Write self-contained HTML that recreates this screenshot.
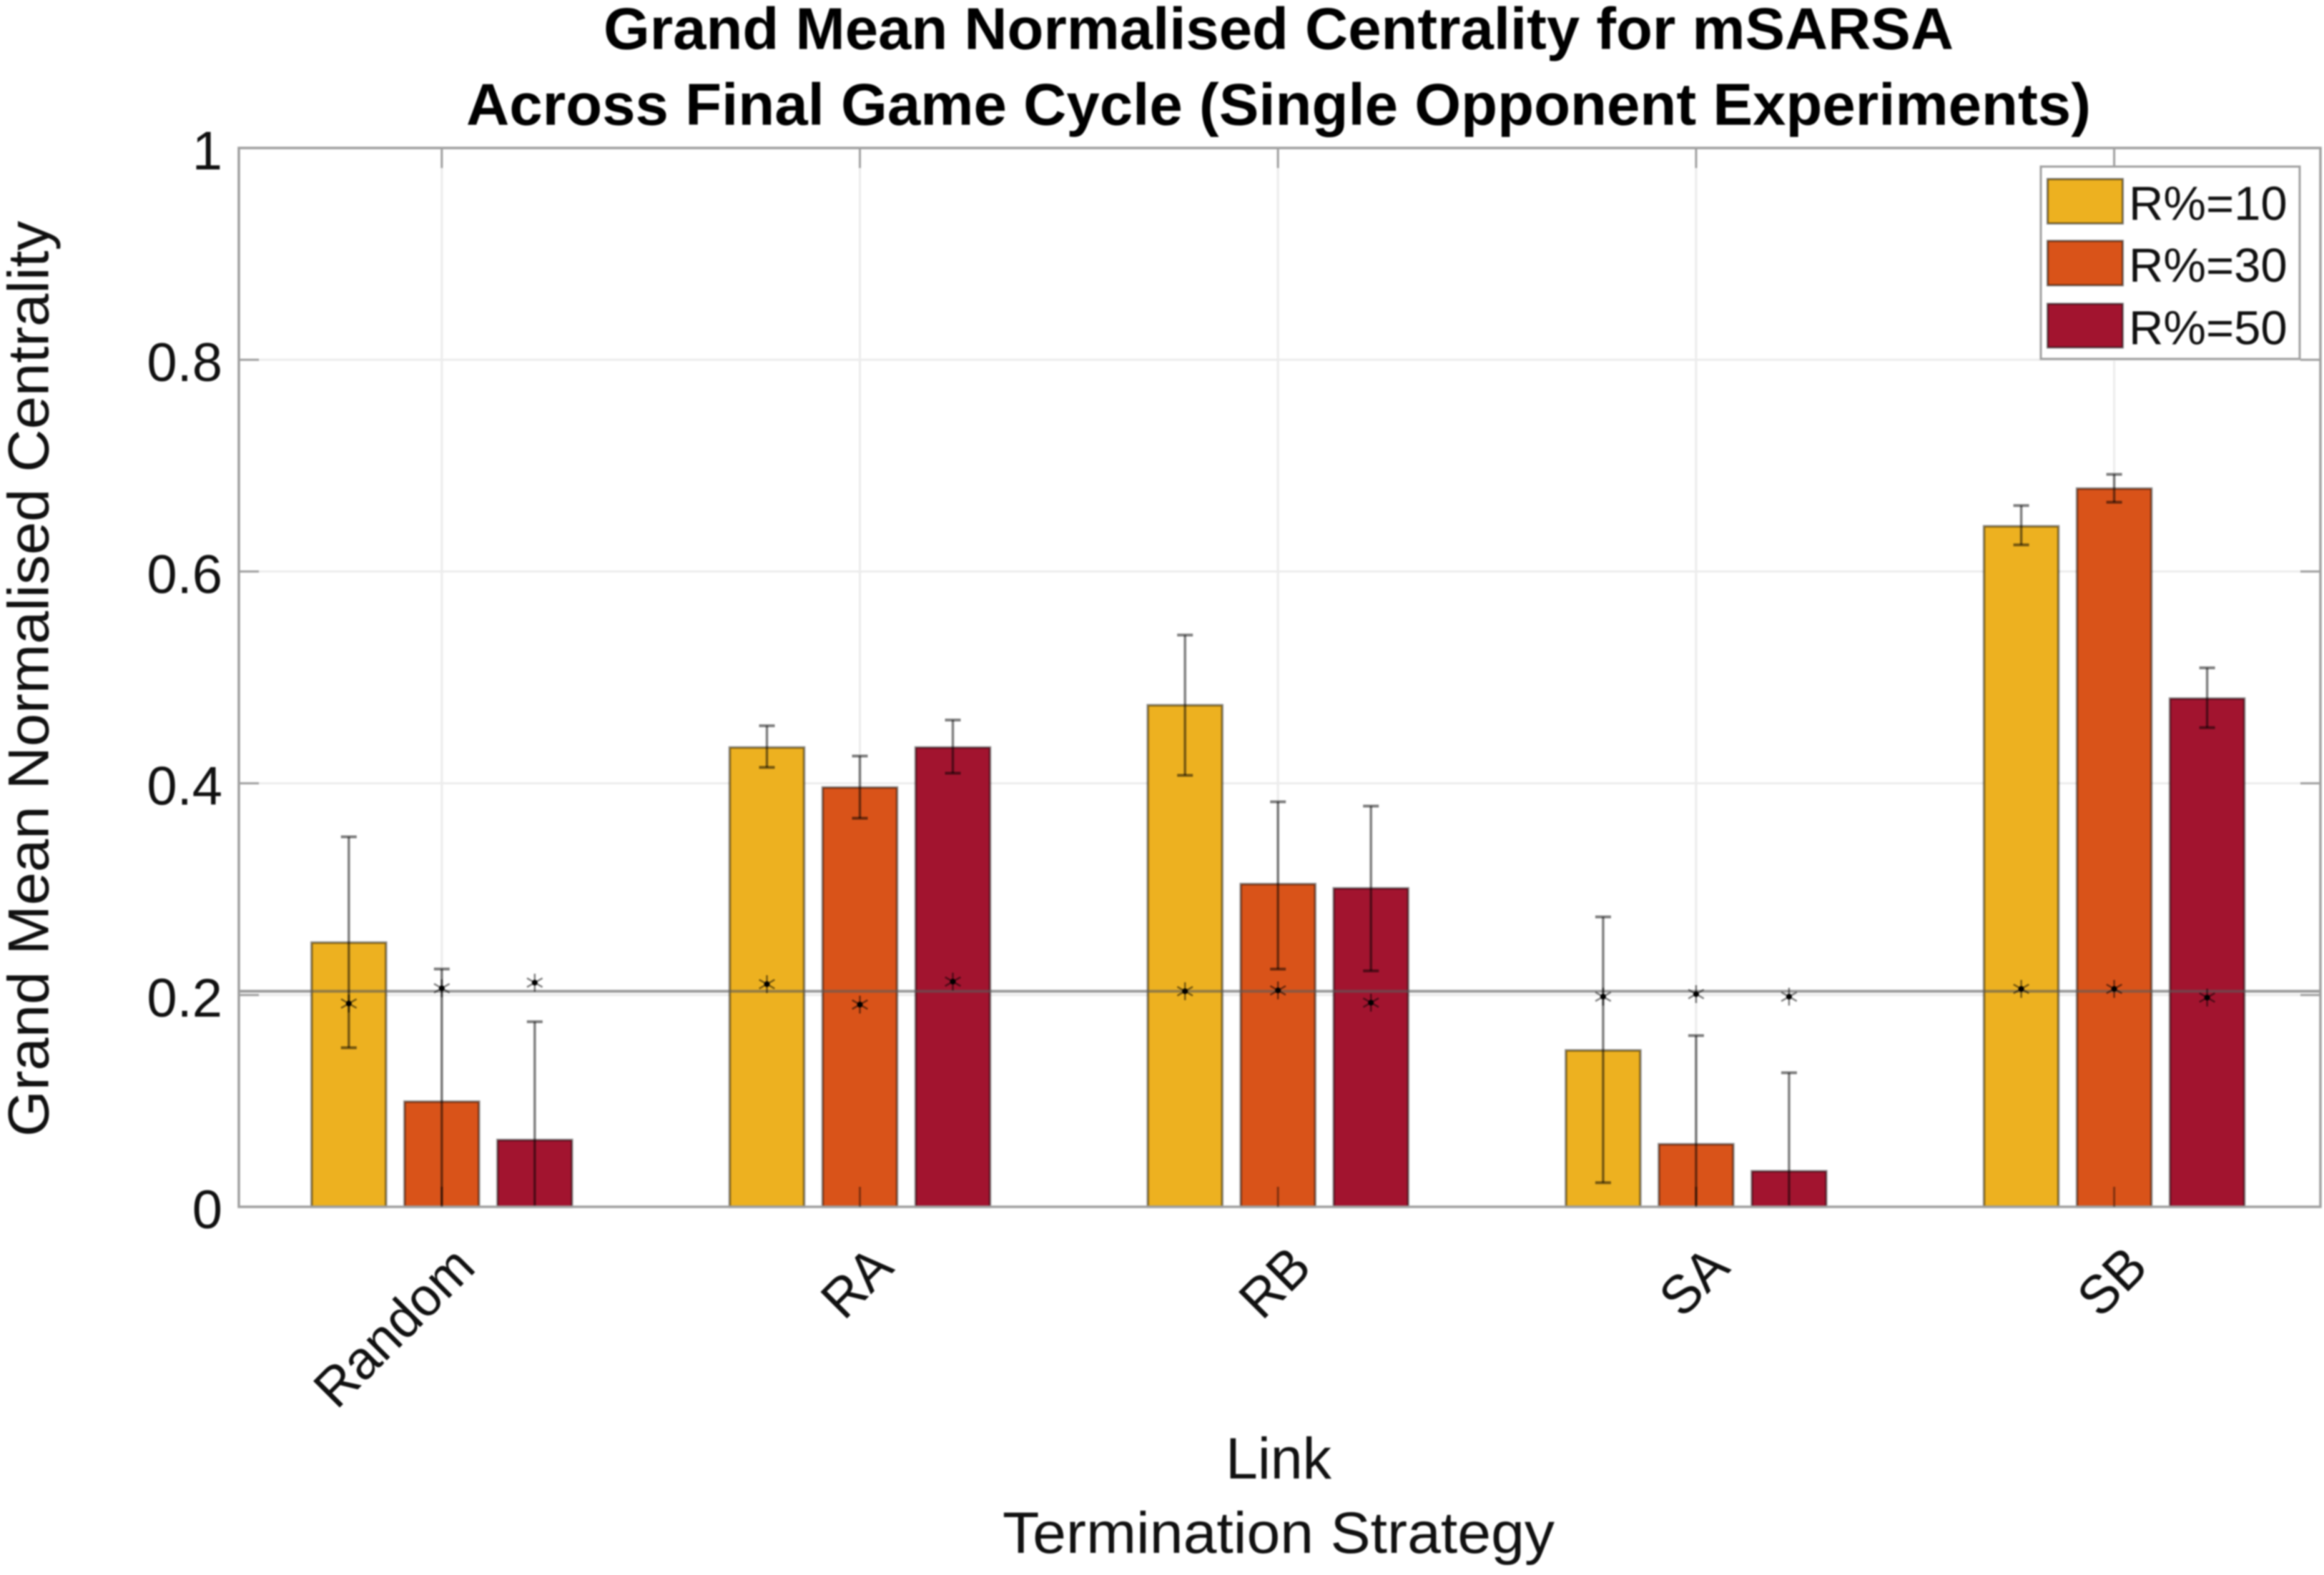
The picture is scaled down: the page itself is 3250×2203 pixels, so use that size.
<!DOCTYPE html>
<html lang="en">
<head>
<meta charset="utf-8">
<title>Grand Mean Normalised Centrality for mSARSA</title>
<style>
  html, body { margin: 0; padding: 0; background: #fff; }
  body { width: 3250px; height: 2203px; overflow: hidden; }
  svg { display: block; filter: blur(1px); font-family: "Liberation Sans", Arial, sans-serif; }
</style>
</head>
<body>
<svg id="chart" xmlns="http://www.w3.org/2000/svg" width="3250" height="2203" viewBox="0 0 3250 2203">
  <defs>
    <clipPath id="plot-clip"><rect x="334" y="207" width="2911" height="1481"></rect></clipPath>
  </defs>
  <rect width="3250" height="2203" fill="#fff"></rect>
  <g id="grid"></g>
  <g id="bars"></g>
  <line id="ref-line" x1="334" x2="3245" stroke="#5a5a5a" stroke-opacity="0.6" stroke-width="4"></line>
  <g id="errors" clip-path="url(#plot-clip)"></g>
  <g id="stars"></g>
  <rect x="334" y="207" width="2911" height="1481" fill="none" stroke="#a0a0a0" stroke-width="3.5"></rect>
  <g id="ticks"></g>
  <g id="y-labels"></g>
  <g id="x-labels"></g>

  <text x="1788" y="68.5" text-anchor="middle" font-size="83" font-weight="700" textLength="1888" lengthAdjust="spacingAndGlyphs">Grand Mean Normalised Centrality for mSARSA</text>
  <text x="1788" y="174.5" text-anchor="middle" font-size="83" font-weight="700" textLength="2272" lengthAdjust="spacingAndGlyphs">Across Final Game Cycle (Single Opponent Experiments)</text>
  <text transform="translate(67.5,949.5) rotate(-90)" text-anchor="middle" font-size="81" fill="#111" textLength="1281" lengthAdjust="spacingAndGlyphs">Grand Mean Normalised Centrality</text>
  <text x="1788" y="2068" text-anchor="middle" font-size="82" fill="#111" textLength="148" lengthAdjust="spacingAndGlyphs">Link</text>
  <text x="1788" y="2172" text-anchor="middle" font-size="82" fill="#111" textLength="772" lengthAdjust="spacingAndGlyphs">Termination Strategy</text>

  <g>
    <rect x="2854" y="233" width="362" height="269" fill="#fff" stroke="#a0a0a0" stroke-width="3"></rect>
    <rect x="2863.5" y="250.5" width="105" height="62" fill="#EDB120" stroke="#000" stroke-opacity="0.5" stroke-width="3"></rect>
    <text x="2977" y="307.5" font-size="67" fill="#111">R%=10</text>
    <rect x="2863.5" y="337" width="105" height="62" fill="#D95319" stroke="#000" stroke-opacity="0.5" stroke-width="3"></rect>
    <text x="2977" y="394" font-size="67" fill="#111">R%=30</text>
    <rect x="2863.5" y="425" width="105" height="61" fill="#A2142F" stroke="#000" stroke-opacity="0.5" stroke-width="3"></rect>
    <text x="2977" y="481.5" font-size="67" fill="#111">R%=50</text>
  </g>
</svg>
<script>
// Chart data
const categories = ["Random", "RA", "RB", "SA", "SB"];
const yTicks = [0, 0.2, 0.4, 0.6, 0.8, 1];
const yTickLabels = ["0", "0.2", "0.4", "0.6", "0.8", "1"];
const seriesNames = ["r10", "r30", "r50"];
const seriesColors = ["#EDB120", "#D95319", "#A2142F"];

const meanR10 = [0.2495, 0.4338, 0.4737, 0.1477, 0.6427];
const meanR30 = [0.0993, 0.3960, 0.3048, 0.0591, 0.6783];
const meanR50 = [0.0631, 0.4338, 0.3008, 0.0336, 0.4800];

const upperR10 = [0.3494, 0.4543, 0.5400, 0.2738, 0.6623];
const upperR30 = [0.2246, 0.4257, 0.3825, 0.1617, 0.6918];
const upperR50 = [0.1748, 0.4597, 0.3785, 0.1266, 0.5090];

const lowerR10 = [0.1502, 0.4150, 0.4075, 0.0228, 0.6252];
const lowerR30 = [-0.0260, 0.3670, 0.2245, -0.0435, 0.6654];
const lowerR50 = [-0.0486, 0.4095, 0.2228, -0.0594, 0.4526];

const starR10 = [0.1920, 0.2103, 0.2036, 0.1985, 0.2058];
const starR30 = [0.2064, 0.1910, 0.2044, 0.2009, 0.2058];
const starR50 = [0.2117, 0.2127, 0.1928, 0.1985, 0.1976];

const referenceValue = 0.2036;

// Axis functions
const NS = "http://www.w3.org/2000/svg";
const plotLeft = 334, plotRight = 3245, plotTop = 207, plotBottom = 1688;
const firstGroup = 617.8, groupStep = 584.7, seriesStep = 130, barWidth = 104;
function yScale(v) { return plotBottom - v * (plotBottom - plotTop); }
function xGroup(g) { return firstGroup + g * groupStep; }
function xBar(g, s) { return xGroup(g) + (s - 1) * seriesStep; }
function make(tag, parent) {
  const el = document.createElementNS(NS, tag);
  parent.appendChild(el);
  return el;
}
function line(el, x1, y1, x2, y2) {
  el.setAttribute("x1", x1);
  el.setAttribute("y1", y1);
  el.setAttribute("x2", x2);
  el.setAttribute("y2", y2);
}

const gridGroup = document.getElementById("grid");
const barGroup = document.getElementById("bars");
const errorGroup = document.getElementById("errors");
const starGroup = document.getElementById("stars");
const tickGroup = document.getElementById("ticks");
const yLabelGroup = document.getElementById("y-labels");
const xLabelGroup = document.getElementById("x-labels");

const refLine = document.getElementById("ref-line");
refLine.setAttribute("y1", yScale(referenceValue));
refLine.setAttribute("y2", yScale(referenceValue));

// Grid, ticks and labels
yTicks.forEach(function (v, i) {
  const y = yScale(v);
  const grid = make("line", gridGroup);
  
  
  line(grid, plotLeft, y, plotRight, y);
  grid.setAttribute("stroke", "#ececec");
  grid.setAttribute("stroke-width", "3");

  const leftTick = make("line", tickGroup);
  
  
  line(leftTick, plotLeft, y, plotLeft + 28, y);
  leftTick.setAttribute("stroke", "#a0a0a0");
  leftTick.setAttribute("stroke-width", "3");

  const rightTick = make("line", tickGroup);
  
  
  line(rightTick, plotRight - 28, y, plotRight, y);
  rightTick.setAttribute("stroke", "#a0a0a0");
  rightTick.setAttribute("stroke-width", "3");

  const label = make("text", yLabelGroup);
  
  
  label.setAttribute("x", 311);
  label.setAttribute("y", y + 30);
  label.setAttribute("text-anchor", "end");
  label.setAttribute("font-size", "76");
  label.setAttribute("fill", "#111");
  label.textContent = yTickLabels[i];
});

categories.forEach(function (name, g) {
  const x = xGroup(g);
  const grid = make("line", gridGroup);
  
  
  line(grid, x, plotTop, x, plotBottom);
  grid.setAttribute("stroke", "#ececec");
  grid.setAttribute("stroke-width", "3");

  const bottomTick = make("line", tickGroup);
  
  
  line(bottomTick, x, plotBottom - 28, x, plotBottom);
  bottomTick.setAttribute("stroke", "#000");
  bottomTick.setAttribute("stroke-opacity", "0.4");
  bottomTick.setAttribute("stroke-width", "3");

  const topTick = make("line", tickGroup);
  
  
  line(topTick, x, plotTop, x, plotTop + 28);
  topTick.setAttribute("stroke", "#a0a0a0");
  topTick.setAttribute("stroke-width", "3");

  const label = make("text", xLabelGroup);
  
  
  label.setAttribute("transform", "translate(" + (x + 50) + "," + (plotBottom + 88) + ") rotate(-45) scale(0.97,1)");
  label.setAttribute("text-anchor", "end");
  label.setAttribute("font-size", "76");
  label.setAttribute("fill", "#111");
  label.textContent = name;
});

// Series marks
const means = [meanR10, meanR30, meanR50];
const uppers = [upperR10, upperR30, upperR50];
const lowers = [lowerR10, lowerR30, lowerR50];
const starValues = [starR10, starR30, starR50];

seriesNames.forEach(function (series, s) {
  categories.forEach(function (cat, g) {
    const cx = xBar(g, s);
    const top = yScale(means[s][g]);

    const bar = make("rect", barGroup);
    
    
    bar.setAttribute("x", cx - barWidth / 2);
    bar.setAttribute("y", top);
    bar.setAttribute("width", barWidth);
    bar.setAttribute("height", plotBottom - top);
    bar.setAttribute("fill", seriesColors[s]);
    bar.setAttribute("stroke", "#000");
    bar.setAttribute("stroke-opacity", "0.45");
    bar.setAttribute("stroke-width", "3.5");

    const yHi = yScale(uppers[s][g]);
    const yLo = yScale(lowers[s][g]);

    const stem = make("line", errorGroup);
    
    
    line(stem, cx, yHi, cx, yLo);
    stem.setAttribute("stroke", "#000");
    stem.setAttribute("stroke-opacity", "0.5");
    stem.setAttribute("stroke-width", "3.5");

    const capTop = make("line", errorGroup);
    
    
    line(capTop, cx - 11, yHi, cx + 11, yHi);
    capTop.setAttribute("stroke", "#000");
    capTop.setAttribute("stroke-opacity", "0.5");
    capTop.setAttribute("stroke-width", "4");

    const capBottom = make("line", errorGroup);
    
    
    line(capBottom, cx - 11, yLo, cx + 11, yLo);
    capBottom.setAttribute("stroke", "#000");
    capBottom.setAttribute("stroke-opacity", "0.5");
    capBottom.setAttribute("stroke-width", "4");

    const sy = yScale(starValues[s][g]);
    const star = make("g", starGroup);
    
    
    star.setAttribute("transform", "translate(" + cx + "," + sy + ")");
    [0, 60, 120].forEach(function (angle) {
      const arm = make("line", star);
      
      
      line(arm, 0, -12.5, 0, 12.5);
      arm.setAttribute("transform", "rotate(" + angle + ")");
      arm.setAttribute("stroke", "#000");
      arm.setAttribute("stroke-opacity", "0.5");
      arm.setAttribute("stroke-width", "2.5");
    });
    const dot = make("circle", star);
    
    
    dot.setAttribute("r", "4");
    dot.setAttribute("fill", "#000");
  });
});
</script>
</body>
</html>
